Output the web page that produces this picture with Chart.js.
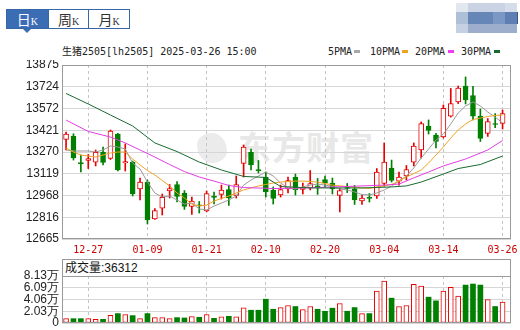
<!DOCTYPE html>
<html>
<head>
<meta charset="utf-8">
<script src="https://cdn.jsdelivr.net/npm/chart.js@4.4.1/dist/chart.umd.min.js"></script>
<style>
  html, body { margin: 0; padding: 0; background: #fff; }
  #page { position: relative; width: 520px; height: 330px; overflow: hidden; }
  .abs { position: absolute; }
  .tabs { left: 6px; top: 9px; width: 124px; height: 20px; border: 1px solid #3566a8; box-sizing: border-box; display: flex; }
  .tab { width: 41px; height: 18px; line-height: 18px; text-align: center; color: #333; border-left: 1px solid #3566a8; box-sizing: border-box; font-family: 'Noto Sans CJK SC'; font-size: 14px; }
  .tab:first-child { border-left: none; background: #3a6db4; color: #fff; }
  .tab small { font-family: 'Liberation Serif', serif; font-size: 10px; }
  .caret { left: 23px; top: 29px; width: 0; height: 0; border-left: 4px solid transparent; border-right: 4px solid transparent; border-top: 4px solid #3a6db4; }
  .mono { font-family: 'DejaVu Sans Mono', 'Noto Sans CJK SC', monospace; font-size: 10px; color: #222; line-height: 12px; white-space: nowrap; }
  .sw { width: 6px; height: 3px; }
  .watermark { left: 238px; top: 129px; font-family: 'Noto Sans CJK SC'; font-weight: 700; font-size: 33px; line-height: 34px; letter-spacing: 1px; color: #e8e8e8; white-space: nowrap; }
  .logo { left: 197px; top: 133px; width: 30px; height: 30px; background: #ebebeb; border-radius: 50% 50% 50% 50% / 40% 60% 40% 60%; }
  .blk { position: absolute; }
  canvas { position: absolute; left: 0; }
  .volhead { left: 62px; top: 259px; width: 449px; height: 18px; border: 1px solid #999; border-bottom: none; box-sizing: border-box; padding-left: 2px; font-family: 'Liberation Sans', 'Noto Sans CJK SC'; font-size: 12px; line-height: 16px; color: #111; }
</style>
</head>
<body>
<div id="page">
  <div class="abs tabs">
    <div class="tab">日<small>K</small></div>
    <div class="tab">周<small>K</small></div>
    <div class="tab">月<small>K</small></div>
  </div>
  <div class="abs caret"></div>

  <div class="blk" style="left:456px;top:3px;width:12px;height:9px;background:#e3e8f0"></div>
  <div class="blk" style="left:468px;top:3px;width:37px;height:9px;background:#c9d3e3"></div>
  <div class="blk" style="left:505px;top:3px;width:12px;height:9px;background:#d5dcea"></div>
  <div class="blk" style="left:456px;top:12px;width:12px;height:12px;background:#aebfd8"></div>
  <div class="blk" style="left:468px;top:12px;width:25px;height:12px;background:#6686b8"></div>
  <div class="blk" style="left:493px;top:12px;width:12px;height:12px;background:#7b97c3"></div>
  <div class="blk" style="left:505px;top:12px;width:12px;height:12px;background:#5f7fb4"></div>
  <div class="blk" style="left:456px;top:24px;width:12px;height:9px;background:#c5d0e2"></div>
  <div class="blk" style="left:468px;top:24px;width:49px;height:9px;background:#9caecc"></div>
  <div class="blk" style="left:517px;top:12px;width:1px;height:12px;background:#3a5580"></div>

  <div class="abs mono" style="left:62px;top:46px">生猪2505[lh2505] 2025-03-26 15:00</div>
  <div class="abs mono" style="left:328px;top:46px">5PMA</div>
  <div class="abs sw" style="left:354px;top:50px;background:#a8a8a8"></div>
  <div class="abs mono" style="left:370px;top:46px">10PMA</div>
  <div class="abs sw" style="left:402px;top:50px;background:#f0a31e"></div>
  <div class="abs mono" style="left:415px;top:46px">20PMA</div>
  <div class="abs sw" style="left:448px;top:50px;background:#ee3fee"></div>
  <div class="abs mono" style="left:461px;top:46px">30PMA</div>
  <div class="abs sw" style="left:494px;top:50px;background:#176b2f"></div>

  <div class="abs logo"></div>
  <div class="abs watermark">东方财富</div>

  <div class="abs volhead">成交量:36312</div>

  <canvas id="priceChart" width="520" height="200" style="top:60px"></canvas>
  <canvas id="volChart" width="520" height="75" style="top:255px"></canvas>
</div>

<script>
// trading days shown
const dates = ['12-24','12-25','12-26','12-27','12-30','12-31','01-02','01-03','01-06','01-07',
  '01-08','01-09','01-10','01-13','01-14','01-15','01-16','01-17','01-20','01-21',
  '01-22','01-23','01-24','01-27','02-05','02-06','02-07','02-10','02-11','02-12',
  '02-13','02-14','02-17','02-18','02-19','02-20','02-21','02-24','02-25','02-26',
  '02-27','02-28','03-03','03-04','03-05','03-06','03-07','03-10','03-11','03-12',
  '03-13','03-14','03-17','03-18','03-19','03-20','03-21','03-24','03-25','03-26'];

const opens = [13357,13381,13197,13211,13200,13270,13225,13395,13194,13200,
  13013,13061,12804,12880,13000,13044,12985,12891,12902,12860,
  12964,12975,13009,12968,13190,13267,13148,13096,13006,12971,
  13013,13096,13009,13020,13034,13079,13054,12968,13023,13013,
  12929,12954,12964,13051,13159,13068,13103,13200,13284,13451,
  13388,13374,13520,13618,13729,13663,13520,13399,13468,13468];
const highs = [13409,13397,13249,13253,13284,13305,13423,13399,13326,13207,
  13089,13075,12877,12978,13044,13065,13002,12957,12926,12999,
  12992,13040,13040,13103,13319,13291,13211,13131,13027,13040,
  13096,13117,13054,13141,13086,13103,13089,13016,13051,13037,
  12968,12981,13155,13333,13214,13131,13176,13333,13479,13493,
  13399,13597,13712,13729,13792,13726,13569,13503,13538,13562];
const lows = [13284,13214,13131,13155,13173,13180,13218,13138,13138,12964,
  12936,12769,12801,12832,12950,12922,12871,12836,12846,12853,
  12909,12943,12898,12950,13096,13145,13124,12957,12908,12957,
  12985,12971,12978,13006,12975,13027,12978,12853,12988,12905,
  12905,12922,12947,13034,13061,13040,13075,13173,13228,13395,
  13298,13367,13513,13607,13604,13493,13343,13378,13440,13430];
const closes = [13395,13228,13187,13225,13267,13197,13416,13145,13204,12978,
  13061,12797,12863,12954,13016,12961,12891,12929,12895,12981,
  12954,13006,12950,13044,13305,13180,13141,12992,12947,13009,
  13072,13006,13023,13051,13020,13054,13013,13002,13016,12936,
  12950,12947,13131,13200,13072,13096,13148,13312,13468,13420,
  13343,13573,13607,13715,13632,13520,13364,13482,13461,13538];

const volumes = [7500,7500,7500,7500,6400,6400,13400,16300,14500,12800,
  7500,16300,9300,9300,7500,9300,8700,11000,9900,14500,
  8100,10500,11600,10500,26100,22100,22100,41200,23800,26700,
  30200,28500,23200,28500,23800,20300,25600,33700,20300,26700,
  16300,16300,55200,72600,43000,28500,30200,66800,63900,44700,
  38300,55200,61600,46500,65600,67400,65600,40600,28500,36312];

// moving averages
const ma5 = [13284,13277,13277,13277,13270,13284,13312,13305,13291,13193,
  13152,13061,12985,12957,12964,12936,12908,12915,12874,12867,
  12894,12915,12936,12964,13040,13075,13103,13131,13103,13054,
  13020,13013,13027,13040,13047,13040,13030,13013,13006,12992,
  12974,12971,12985,13006,13034,13068,13103,13159,13228,13291,
  13353,13395,13465,13541,13590,13618,13590,13548,13513,13472];
const ma10 = [13298,13270,13249,13242,13235,13249,13263,13270,13270,13221,
  13180,13141,13110,13072,13034,12985,12950,12908,12895,12901,
  12929,12947,12964,12985,13006,13020,13034,13044,13054,13061,
  13065,13068,13068,13065,13061,13051,13040,13034,13030,13023,
  13020,13016,13027,13034,13044,13068,13096,13120,13145,13193,
  13249,13305,13367,13423,13465,13496,13506,13517,13524,13527];
const ma20Idx = [0,3,6,8,10,12,14,16,18,20,22,24,28,32,36,40,43,45,47,49,51,54,57,59];
const ma20 = [13492,13413,13374,13333,13284,13235,13183,13134,13096,13068,13037,13023,
  13016,13020,13027,13034,13040,13047,13090,13131,13173,13221,13284,13350];
const ma30Idx = [0,3,6,9,12,15,18,21,24,27,29,33,36,40,44,46,48,51,53,56,59];
const ma30 = [13677,13604,13527,13451,13333,13273,13200,13145,13100,13093,13030,
  13020,13020,13020,13027,13034,13061,13117,13155,13183,13242];

const priceTicks = [12665, 12816, 12968, 13119, 13270, 13421, 13572, 13724, 13875];
const volTicks = [0, 20300, 40600, 60900, 81300];
const volTickLabels = ['0', '2.03万', '4.06万', '6.09万', '8.13万'];
const dateTickIdx = [3, 11, 19, 27, 35, 43, 51, 59];

const UP = '#e60000';
const DOWN = '#008000';
const X_MIN = -0.55;
const X_MAX = 60.14;

const isUp = closes.map((c, i) => c >= opens[i]);
const allIdx = dates.map((_, i) => i);
const pick = (up, fn) => allIdx.filter(i => isUp[i] === up).map(fn);
const toPoints = (idx, vals) => idx.map((x, k) => ({ x, y: vals[k] }));

// frame round the plot area
const framePlugin = {
    id: 'frame',
    afterDraw(chart) {
        const { ctx, chartArea: a } = chart;
        ctx.save();
        ctx.strokeStyle = '#9a9a9a';
        ctx.lineWidth = 1;
        ctx.strokeRect(Math.round(a.left) + 0.5, Math.round(a.top) + 0.5,
            Math.round(a.right - a.left) - 1, Math.round(a.bottom - a.top) - 1);
        ctx.restore();
    },
};

function xScale(showLabels) {
    return {
        type: 'linear',
        min: X_MIN,
        max: X_MAX,
        offset: false,
        afterBuildTicks: s => { s.ticks = dateTickIdx.map(v => ({ value: v })); },
        afterFit: s => { s.height = showLabels ? 21 : 0; s.paddingLeft = 0; s.paddingRight = 0; },
        ticks: {
            display: showLabels,
            autoSkip: false,
            maxRotation: 0,
            padding: 5,
            color: '#cc0000',
            font: { family: 'DejaVu Sans Mono', size: 10 },
            callback: v => dates[v],
        },
        grid: { color: '#c4c4c4', drawTicks: false, offset: false },
        border: { display: false, dash: [3, 3] },
    };
}

const yFont = { family: 'Liberation Sans', size: 12 };

function lineDs(label, data, color) {
    return { type: 'line', label, data, borderColor: color, borderWidth: 1, pointRadius: 0, tension: 0, order: 0 };
}

new Chart(document.getElementById('priceChart'), {
    type: 'bar',
    data: {
        datasets: [
            { data: pick(true, i => ({ x: i, y: [lows[i], highs[i]] })), backgroundColor: UP, barThickness: 1, grouped: false, order: 3 },
            { data: pick(false, i => ({ x: i, y: [lows[i], highs[i]] })), backgroundColor: DOWN, barThickness: 1, grouped: false, order: 3 },
            { data: pick(true, i => ({ x: i, y: [opens[i], closes[i]] })), backgroundColor: '#fff', borderColor: UP, borderWidth: 1, borderSkipped: false, barThickness: 5, grouped: false, order: 2 },
            { data: pick(false, i => ({ x: i, y: [opens[i], closes[i]] })), backgroundColor: DOWN, borderColor: DOWN, borderWidth: 1, borderSkipped: false, barThickness: 5, grouped: false, order: 2 },
            lineDs('30PMA', toPoints(ma30Idx, ma30), '#176b2f'),
            lineDs('20PMA', toPoints(ma20Idx, ma20), '#e23de2'),
            lineDs('10PMA', toPoints(allIdx, ma10), '#efa325'),
            lineDs('5PMA', toPoints(allIdx, ma5), '#9a9a9a'),
        ],
    },
    options: {
        responsive: false,
        animation: false,
        layout: { padding: { top: 5, right: 9, left: 0, bottom: 0 } },
        plugins: { legend: { display: false }, tooltip: { enabled: false } },
        scales: {
            x: xScale(true),
            y: {
                min: 12665,
                max: 13875,
                afterBuildTicks: s => { s.ticks = priceTicks.map(v => ({ value: v })); },
                afterFit: s => { s.width = 62; s.paddingTop = 0; s.paddingBottom = 0; },
                ticks: { autoSkip: false, padding: 3, color: '#222', font: yFont, callback: v => String(v) },
                grid: { color: '#d6d6d6', drawTicks: false },
                border: { display: false },
            },
        },
    },
    plugins: [framePlugin],
});

new Chart(document.getElementById('volChart'), {
    type: 'bar',
    data: {
        datasets: [
            { data: pick(true, i => ({ x: i, y: volumes[i] })), backgroundColor: '#fff', borderColor: UP, borderWidth: 1, borderSkipped: false, barThickness: 5, grouped: false },
            { data: pick(false, i => ({ x: i, y: volumes[i] })), backgroundColor: DOWN, borderColor: DOWN, borderWidth: 0, barThickness: 5, grouped: false },
        ],
    },
    options: {
        responsive: false,
        animation: false,
        layout: { padding: { top: 21, right: 9, left: 0, bottom: 7 } },
        plugins: { legend: { display: false }, tooltip: { enabled: false } },
        scales: {
            x: xScale(false),
            y: {
                min: 0,
                max: 81300,
                afterBuildTicks: s => { s.ticks = volTicks.map(v => ({ value: v })); },
                afterFit: s => { s.width = 62; s.paddingTop = 0; s.paddingBottom = 0; },
                ticks: { autoSkip: false, padding: 3, color: '#222', font: yFont, callback: v => volTickLabels[volTicks.indexOf(v)] },
                grid: { color: '#d6d6d6', drawTicks: false },
                border: { display: false },
            },
        },
    },
    plugins: [framePlugin],
});
</script>
</body>
</html>
